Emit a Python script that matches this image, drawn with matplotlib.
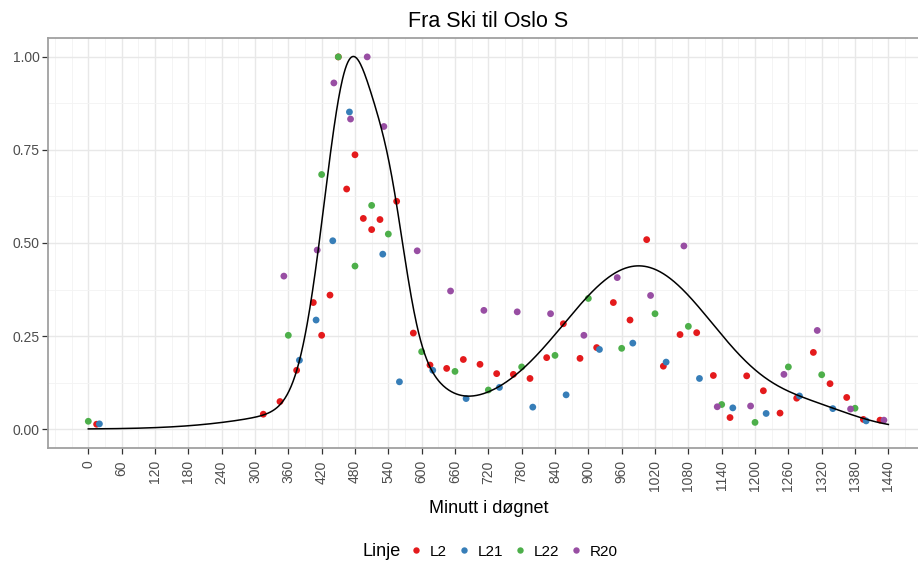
"""
Fra Ski til Oslo S: relative load per line over the day, with a fitted daily profile.
"""

import numpy as np
import matplotlib
matplotlib.use("Agg")
import matplotlib.pyplot as plt
from matplotlib.lines import Line2D
from matplotlib.ticker import MultipleLocator

plt.rcParams['font.family'] = ['Liberation Sans', 'DejaVu Sans']

# Observed relative load (minute of day, share of daily max) per line
l2_min = [15, 315, 345, 375, 405, 420, 435, 450, 465, 480, 495, 510, 525, 555, 585,
          615, 645, 675, 705, 735, 765, 795, 825, 855, 885, 915, 945, 975, 1005,
          1035, 1065, 1095, 1125, 1155, 1185, 1215, 1245, 1275, 1305, 1335, 1365,
          1395, 1425]
l2_val = [0.013, 0.040, 0.074, 0.158, 0.340, 0.252, 0.360, 1.000, 0.645, 0.737,
          0.566, 0.536, 0.563, 0.612, 0.258, 0.172, 0.163, 0.187, 0.174, 0.149,
          0.147, 0.136, 0.192, 0.283, 0.190, 0.219, 0.340, 0.293, 0.509, 0.169,
          0.254, 0.259, 0.144, 0.031, 0.143, 0.103, 0.043, 0.083, 0.206, 0.122,
          0.085, 0.026, 0.024]

l21_min = [20, 380, 410, 440, 470, 530, 560, 620, 680, 740, 800, 860, 920, 980,
           1040, 1100, 1160, 1220, 1280, 1340, 1400]
l21_val = [0.014, 0.185, 0.293, 0.506, 0.852, 0.470, 0.127, 0.158, 0.082, 0.112,
           0.059, 0.092, 0.214, 0.231, 0.180, 0.136, 0.057, 0.042, 0.089, 0.055,
           0.022]

l22_min = [0, 360, 420, 450, 480, 510, 540, 600, 660, 720, 780, 840, 900, 960,
           1020, 1080, 1140, 1200, 1260, 1320, 1380]
l22_val = [0.021, 0.252, 0.684, 1.000, 0.438, 0.601, 0.524, 0.208, 0.155, 0.105,
           0.167, 0.198, 0.351, 0.217, 0.310, 0.276, 0.066, 0.018, 0.167, 0.146,
           0.056]

r20_min = [352, 412, 442, 472, 502, 532, 592, 652, 712, 772, 832, 892, 952, 1012,
           1072, 1132, 1192, 1252, 1312, 1372, 1432]
r20_val = [0.411, 0.481, 0.930, 0.833, 1.000, 0.813, 0.479, 0.371, 0.319, 0.315,
           0.310, 0.252, 0.407, 0.359, 0.492, 0.060, 0.062, 0.147, 0.265, 0.054,
           0.024]

line_names = ['L2', 'L21', 'L22', 'R20']
line_colors = ['#E41A1C', '#377EB8', '#4DAF4A', '#984EA3']

# Fitted daily profile: sum of gaussian bumps (height, centre in minutes, width)
curve_height = [0.893, 0.2621, 0.4377, 0.1134, 0.0719, 0.0390]
curve_centre = [470.92, 544.03, 991.26, 567.42, 510.18, 1310.42]
curve_width = [46.48, 30.00, 140.47, 50.78, 161.68, 77.85]


def daily_profile(minutes):
    total = np.zeros_like(minutes, dtype=float)
    for h, c, w in zip(curve_height, curve_centre, curve_width):
        total += h * np.exp(-(minutes - c) ** 2 / (2 * w ** 2))
    return total


fig = plt.figure(figsize=(9.18, 5.63), dpi=100)
ax = fig.add_axes([0.0526, 0.2048, 0.9587, 0.7272])

# panel look: white with light grid, grey frame
ax.set_facecolor('white')
ax.xaxis.set_major_locator(MultipleLocator(60))
ax.xaxis.set_minor_locator(MultipleLocator(30))
ax.yaxis.set_major_locator(MultipleLocator(0.25))
ax.yaxis.set_minor_locator(MultipleLocator(0.125))
ax.grid(which='major', color='#E8E8E8', lw=1.0)
ax.grid(which='minor', color='#F3F3F3', lw=0.6)
ax.set_axisbelow(True)
for side in ax.spines.values():
    side.set_color('#A0A0A0')
    side.set_linewidth(1.3)

series = [(l2_min, l2_val), (l21_min, l21_val), (l22_min, l22_val), (r20_min, r20_val)]
for (mins, vals), name, col in zip(series, line_names, line_colors):
    ax.scatter(mins, vals, s=24, color=col, edgecolors='none', zorder=3, label=name)

xx = np.linspace(0, 1440, 1200)
ax.plot(xx, daily_profile(xx), color='black', lw=1.1, zorder=4)

ax.set_xlim(-72, 1512)
ax.set_ylim(-0.05, 1.05)
ax.set_xticks(np.arange(0, 1441, 60))
ax.set_xticklabels([str(m) for m in range(0, 1441, 60)], rotation=90)
ax.set_yticks([0, 0.25, 0.5, 0.75, 1.0])
ax.set_yticklabels(['0.00', '0.25', '0.50', '0.75', '1.00'])
ax.tick_params(which='major', length=4, width=0.9, color='#333333',
               labelcolor='#4D4D4D', labelsize=10, pad=2)
ax.tick_params(axis='x', pad=5)
ax.tick_params(which='minor', length=0)

ax.set_title('Fra Ski til Oslo S', fontsize=15.5, pad=8)
ax.set_xlabel('Minutt i døgnet', fontsize=13, labelpad=6)

handles = [Line2D([], [], ls='none', marker='o', ms=4.6, color=c, mec='none')
           for c in line_colors]
fig.legend(handles, line_names, loc='center', bbox_to_anchor=(0.559, 0.02),
           ncol=4, frameon=False, fontsize=11, handlelength=1.0,
           handletextpad=0.42, columnspacing=0.58, borderpad=0)
fig.text(0.3954, 0.02, 'Linje', fontsize=13, ha='left', va='center')

fig.savefig('out.png', dpi=100)
